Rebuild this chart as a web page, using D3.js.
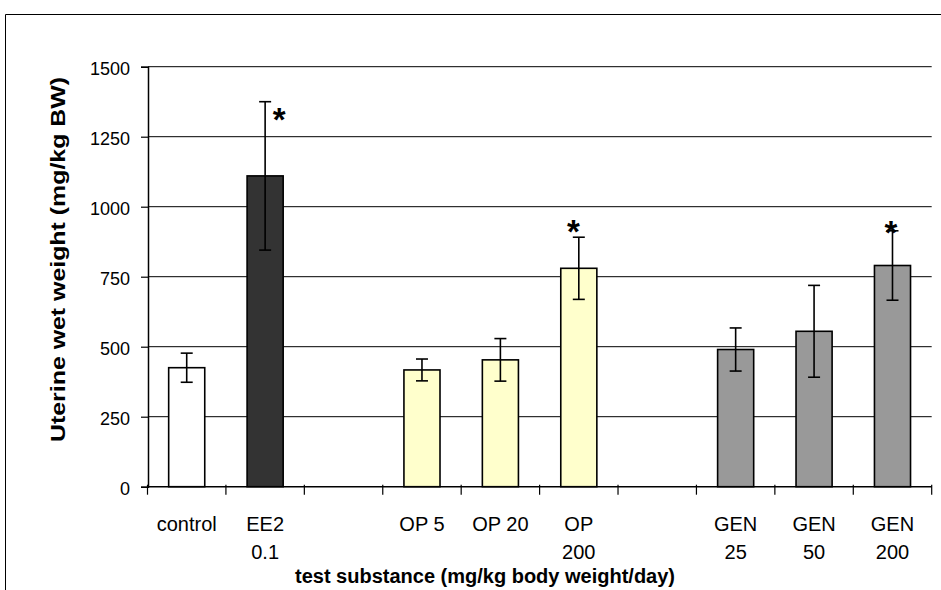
<!DOCTYPE html>
<html>
<head>
<meta charset="utf-8">
<script src="https://cdn.jsdelivr.net/npm/d3@7"></script>
<style>
  html, body { margin: 0; padding: 0; background: #fff; }
  svg { display: block; font-family: "Liberation Sans", Arial, sans-serif; }
</style>
</head>
<body>
<svg id="chart" width="941" height="590"></svg>
<script>
// Uterotrophic assay: mean uterine wet weight per group with error bars.
const categories = ["control", "EE2 0.1", "gap1", "OP 5", "OP 20", "OP 200", "gap2", "GEN 25", "GEN 50", "GEN 200"];
const labelLines = [["control"], ["EE2", "0.1"], [], ["OP 5"], ["OP 20"], ["OP", "200"], [], ["GEN", "25"], ["GEN", "50"], ["GEN", "200"]];
const means  = [425, 1110, null, 417, 453, 780, null, 490, 555, 790];
const errors = [ 52,  265, null,  39,  76, 111, null,  77, 164, 124];
const groups = ["control", "EE2", null, "OP", "OP", "OP", null, "GEN", "GEN", "GEN"];
const significant = ["EE2 0.1", "OP 200", "GEN 200"];
const yTicks = [0, 250, 500, 750, 1000, 1250, 1500];

const groupFill = { control: "#ffffff", EE2: "#333333", OP: "#ffffcc", GEN: "#999999" };
// where each significance star sits relative to the top of its error bar
const starOffset = { "EE2 0.1": [14, 29.5], "OP 200": [-5.5, 5.5], "GEN 200": [-1.5, 13] };

const svg = d3.select("#chart");

// outer chart frame
svg.append("path")
  .attr("d", "M5.5,590 V14.5 H941")
  .attr("fill", "none").attr("stroke", "#000").attr("stroke-width", 1);

const x = d3.scaleBand().domain(categories).range([147.5, 931.7])
  .paddingInner(0.54).paddingOuter(0.27);
const y = d3.scaleLinear().domain([0, 1500]).range([486.7, 66.7]);

// horizontal gridlines
svg.append("g").selectAll("line").data(yTicks.filter(d => d > 0)).join("line")
  .attr("x1", 148).attr("x2", 931.7)
  .attr("y1", d => y(d)).attr("y2", d => y(d))
  .attr("stroke", "#000").attr("stroke-width", 1);

// y axis
const yAxis = svg.append("g").attr("transform", "translate(148,0)")
  .call(d3.axisLeft(y).tickValues(yTicks).tickSize(7).tickPadding(11).tickFormat(d3.format("d")));
yAxis.select(".domain").attr("stroke", "#000").attr("stroke-width", 1.5);
yAxis.selectAll(".tick line").attr("stroke", "#000").attr("stroke-width", 1.2);
yAxis.selectAll(".tick text").attr("font-size", 18).attr("fill", "#000")
  .attr("font-family", "Liberation Sans, Arial, sans-serif").attr("dy", "0.42em");

// bars
const rows = categories.map((c, i) => ({ c, mean: means[i], err: errors[i], group: groups[i] }))
  .filter(d => d.mean != null);

svg.append("g").selectAll("rect").data(rows).join("rect")
  .attr("x", d => x(d.c)).attr("width", x.bandwidth())
  .attr("y", d => y(d.mean)).attr("height", d => y(0) - y(d.mean))
  .attr("fill", d => groupFill[d.group])
  .attr("stroke", "#000").attr("stroke-width", 1.6);

// x axis line and category boundary ticks
const step = x.step();
const x0 = x.range()[0];
svg.append("line").attr("x1", x0).attr("x2", x.range()[1])
  .attr("y1", y(0)).attr("y2", y(0)).attr("stroke", "#000").attr("stroke-width", 1.5);
svg.append("g").selectAll("line").data(d3.range(categories.length + 1)).join("line")
  .attr("x1", i => x0 + i * step).attr("x2", i => x0 + i * step)
  .attr("y1", y(0) - 2).attr("y2", y(0) + 8)
  .attr("stroke", "#000").attr("stroke-width", 1.2);

// error bars
const cap = 6;
const eb = svg.append("g").attr("stroke", "#000").attr("stroke-width", 1.6);
rows.forEach(d => {
  const cx = x(d.c) + x.bandwidth() / 2;
  eb.append("line").attr("x1", cx).attr("x2", cx).attr("y1", y(d.mean + d.err)).attr("y2", y(d.mean - d.err));
  eb.append("line").attr("x1", cx - cap).attr("x2", cx + cap).attr("y1", y(d.mean + d.err)).attr("y2", y(d.mean + d.err));
  eb.append("line").attr("x1", cx - cap).attr("x2", cx + cap).attr("y1", y(d.mean - d.err)).attr("y2", y(d.mean - d.err));
});

// significance stars
svg.append("g").selectAll("text").data(rows.filter(d => significant.includes(d.c))).join("text")
  .attr("x", d => x(d.c) + x.bandwidth() / 2 + starOffset[d.c][0])
  .attr("y", d => y(d.mean + d.err) + starOffset[d.c][1])
  .attr("text-anchor", "middle").attr("font-size", 33).attr("font-weight", "bold")
  .text("*");

// category labels
const lab = svg.append("g").attr("font-size", 20).attr("text-anchor", "middle").attr("fill", "#000");
categories.forEach((c, i) => {
  labelLines[i].forEach((t, j) => {
    lab.append("text").attr("x", x(c) + x.bandwidth() / 2).attr("y", 531 + j * 28).text(t);
  });
});

// axis titles
svg.append("text").attr("x", 485).attr("y", 583).attr("text-anchor", "middle")
  .attr("font-size", 20).attr("font-weight", "bold").text("test substance (mg/kg body weight/day)");
svg.append("text").attr("transform", "translate(65,259.5) rotate(-90)").attr("text-anchor", "middle")
  .attr("font-size", 20).attr("font-weight", "bold")
  .attr("textLength", 365).attr("lengthAdjust", "spacingAndGlyphs")
  .text("Uterine wet weight (mg/kg BW)");
</script>
</body>
</html>
